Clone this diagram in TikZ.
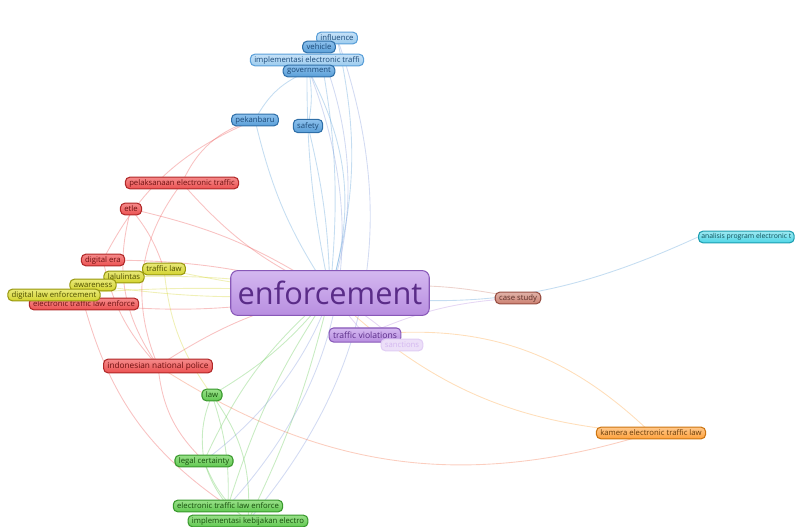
\documentclass[tikz,border=0pt]{standalone}
\usepackage{fontspec}
\setmainfont{Open Sans}
\usetikzlibrary{backgrounds}

% cluster colours
\definecolor{blueBase}{HTML}{5A9FD8}
\definecolor{blueTop}{HTML}{8CC0EC}
\definecolor{blueDark}{HTML}{2F6FA8}
\definecolor{blueText}{HTML}{1C4A78}
\definecolor{skyBase}{HTML}{9CCBEE}
\definecolor{skyTop}{HTML}{C6E2F8}
\definecolor{redBase}{HTML}{EC5252}
\definecolor{redTop}{HTML}{F58A8A}
\definecolor{redDark}{HTML}{B02828}
\definecolor{redText}{HTML}{6E1010}
\definecolor{yelBase}{HTML}{D4D430}
\definecolor{yelTop}{HTML}{E8E878}
\definecolor{yelDark}{HTML}{989810}
\definecolor{yelText}{HTML}{4E4E00}
\definecolor{purBase}{HTML}{B88EE0}
\definecolor{purTop}{HTML}{D4B8F0}
\definecolor{purDark}{HTML}{8858B8}
\definecolor{purText}{HTML}{5A2C88}
\definecolor{grnBase}{HTML}{62C852}
\definecolor{grnTop}{HTML}{98E088}
\definecolor{grnDark}{HTML}{38982C}
\definecolor{grnText}{HTML}{164E0C}
\definecolor{brnBase}{HTML}{CC8070}
\definecolor{brnDark}{HTML}{985044}
\definecolor{cyaBase}{HTML}{4ED6E6}
\definecolor{cyaDark}{HTML}{1E9EB0}
\definecolor{orgBase}{HTML}{FFA23C}
\definecolor{orgDark}{HTML}{CC7410}

\tikzset{
  kw/.style={rounded corners=2.5pt, inner xsep=2.2pt, inner ysep=0pt,
    minimum height=6.6pt, line width=0.6pt,
    font=\fontsize{4.4}{5}\selectfont},
  bluekw/.style={kw, draw=blueDark, top color=blueTop, bottom color=blueBase, text=blueText},
  skykw/.style={kw, draw=blueBase, top color=skyTop, bottom color=skyBase, text=blueText},
  redkw/.style={kw, draw=redDark, top color=redTop, bottom color=redBase, text=redText},
  yelkw/.style={kw, draw=yelDark, top color=yelTop, bottom color=yelBase, text=yelText},
  purkw/.style={kw, draw=purDark, top color=purTop, bottom color=purBase, text=purText},
  grnkw/.style={kw, draw=grnDark, top color=grnTop, bottom color=grnBase, text=grnText},
  link/.style={line width=0.5pt, opacity=0.35},
}

\begin{document}
\begin{tikzpicture}[x=0.02cm, y=-0.02cm]
  \useasboundingbox (0,0) rectangle (795,527);

  % central keyword
  \node[purkw, rounded corners=4pt, minimum width=113pt, minimum height=25.5pt,
    font=\fontsize{17.5}{20}\selectfont] (enf) at (330,293) {enforcement};

  % blue cluster (top)
  \node[skykw] (influence) at (337,38) {influence};
  \node[bluekw] (vehicle) at (319,47) {vehicle};
  \node[skykw] (impl) at (307,60) {implementasi electronic traffi};
  \node[bluekw] (gov) at (309,71) {government};
  \node[bluekw] (pku) at (255,120) {pekanbaru};
  \node[bluekw, minimum height=7.5pt] (safety) at (308,126) {safety};

  % red cluster (left)
  \node[redkw] (pelak) at (182,183) {pelaksanaan electronic traffic};
  \node[redkw] (etle) at (131,209) {etle};
  \node[redkw] (digera) at (103,260) {digital era};
  \node[redkw] (etleR) at (84,304) {electronic traffic law enforce};
  \node[redkw, minimum height=7.8pt, font=\fontsize{4.7}{5}\selectfont] (polri) at (158,366) {indonesian national police};

  % yellow cluster
  \node[yelkw] (tlaw) at (164,269) {traffic law};
  \node[yelkw] (lalin) at (124,277) {lalulintas};
  \node[yelkw] (aware) at (93,285) {awareness};
  \node[yelkw] (digl) at (54,295) {digital law enforcement};

  % purple, brown, cyan, orange
  \node[purkw, minimum height=8pt, font=\fontsize{4.9}{5}\selectfont] (viol) at (365,335) {traffic violations};
  \node[kw, draw=purTop!70, fill=purTop!45, text=purTop] (sanc) at (402,345) {sanctions};
  \node[kw, draw=brnDark, top color=brnBase!60, bottom color=brnBase, text=brnDark!60!black] (case) at (518,298) {case study};
  \node[kw, anchor=west, inner xsep=1.6pt, font=\fontsize{3.9}{5}\selectfont, draw=cyaDark,
    top color=cyaBase!55, bottom color=cyaBase, text=cyaDark!50!black] (anal) at (698,237) {analisis program electronic t};
  \node[kw, draw=orgDark, top color=orgBase!60, bottom color=orgBase, text=orgDark!50!black] (kamera) at (651,433) {kamera electronic traffic law};

  % green cluster (bottom)
  \node[grnkw] (law) at (212,395) {law};
  \node[grnkw] (legal) at (204,461) {legal certainty};
  \node[grnkw] (etleG) at (228,506) {electronic traffic law enforce};
  \node[grnkw] (kebij) at (248,521) {implementasi kebijakan electro};

  \begin{pgfonlayer}{background}
    % links from the central keyword
    \foreach \n/\c/\b in {influence/blueBase/-14, vehicle/blueBase/-8, impl/blueBase/6,
        gov/blueBase/-22, pku/blueBase/10, safety/blueBase/-6,
        pelak/redBase/12, etle/redBase/-10, digera/redBase/-8, etleR/redBase/8,
        polri/redBase/-10, tlaw/yelBase/4, lalin/yelBase/-6, aware/yelBase/6,
        digl/yelBase/-4, viol/purBase/0, sanc/purBase/5, case/brnBase/10,
        kamera/orgBase/-20, law/grnBase/10, legal/grnBase/-12,
        etleG/grnBase/-8, kebij/grnBase/6}
      \draw[link, \c] (enf.center) to[bend left=\b] (\n.center);
    \draw[link, blueBase] (enf.center) to[bend left=-16] (anal.west);

    % links between the other keywords
    \draw[link, blueBase] (gov.center) to[bend right=20] (pku.center);
    \draw[link, blueBase] (gov.center) to[bend left=10] (safety.center);
    \draw[link, blueBase!60!purBase] (gov.center) to[bend left=32] (etleG.center);
    \draw[link, blueBase!60!purBase] (vehicle.center) to[bend left=38] (legal.center);
    \draw[link, blueBase!60!purBase] (influence.center) to[bend left=30] (kebij.center);
    \draw[link, redBase] (pelak.center) to[bend right=30] (polri.center);
    \draw[link, redBase] (etle.center) to[bend right=25] (polri.center);
    \draw[link, redBase] (pelak.center) to[bend left=25] (pku.center);
    \draw[link, redBase] (digera.center) to[bend left=20] (pku.center);
    \draw[link, redBase] (etle.center) to[bend left=10] (tlaw.center);
    \draw[link, redBase] (digera.center) to[bend right=15] (polri.center);
    \draw[link, redBase] (polri.center) to[bend right=20] (legal.center);
    \draw[link, redBase] (etleR.center) to[bend right=20] (etleG.center);
    \draw[link, yelBase] (tlaw.center) to[bend right=15] (law.center);
    \draw[link, grnBase] (law.center) to[bend right=15] (legal.center);
    \draw[link, grnBase] (law.center) to[bend left=10] (etleG.center);
    \draw[link, grnBase] (legal.center) to[bend right=10] (etleG.center);
    \draw[link, grnBase] (legal.center) to[bend right=15] (kebij.center);
    \draw[link, grnBase] (law.center) to[bend left=20] (kebij.center);
    \draw[link, orgBase] (viol.center) to[bend left=25] (kamera.center);
    \draw[link, redBase!60!orgBase] (polri.center) to[bend right=25] (kamera.center);
    \draw[link, purBase] (viol.center) to[bend left=10] (case.center);
  \end{pgfonlayer}
\end{tikzpicture}
\end{document}
